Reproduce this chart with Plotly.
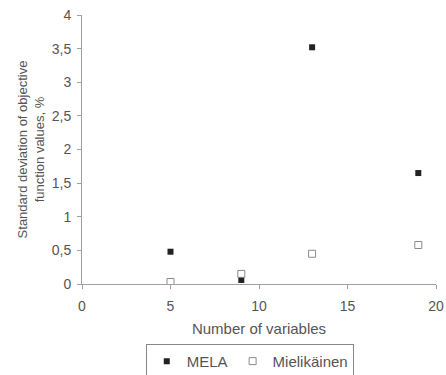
import plotly.graph_objects as go

# Number of variables in each test problem
n_vars = [5, 9, 13, 19]

# Standard deviation of objective function values, %
mela = [0.48, 0.06, 3.52, 1.65]
mielikainen = [0.03, 0.15, 0.45, 0.58]

font_family = "Liberation Sans, Arial, sans-serif"
text_color = "#555555"
axis_color = "#a0a0a0"

fig = go.Figure()
fig.add_trace(go.Scatter(
    x=n_vars, y=mela, mode="markers", name="MELA",
    marker=dict(symbol="square", size=6, color="#222222",
                line=dict(width=0)),
))
fig.add_trace(go.Scatter(
    x=n_vars, y=mielikainen, mode="markers", name="Mielikäinen",
    marker=dict(symbol="square-open", size=7, color="#8a8a8a",
                line=dict(width=1)),
))

fig.update_layout(
    width=446, height=375,
    margin=dict(l=82, r=10, t=15, b=91, autoexpand=False),
    paper_bgcolor="white", plot_bgcolor="white",
    separators=",.",
    font=dict(family=font_family, size=14, color=text_color),
    showlegend=True,
    legend=dict(
        orientation="h", xref="container", yref="container",
        x=0.56, xanchor="center", y=0.083, yanchor="top",
        bordercolor="#888888", borderwidth=1,
        font=dict(size=15, color=text_color),
    ),
    xaxis=dict(
        range=[0, 20], tickvals=[0, 5, 10, 15, 20],
        showgrid=False, zeroline=False,
        showline=True, linecolor=axis_color, linewidth=1,
        ticks="outside", ticklen=4, tickcolor=axis_color,
        ticklabelstandoff=5,
        tickfont=dict(size=14, color=text_color),
        title=dict(text="Number of variables", standoff=10,
                   font=dict(size=15, color=text_color)),
    ),
    yaxis=dict(
        range=[0, 4], tickvals=[0, 0.5, 1, 1.5, 2, 2.5, 3, 3.5, 4],
        showgrid=False, zeroline=False,
        showline=True, linecolor=axis_color, linewidth=1,
        ticks="outside", ticklen=4, tickcolor=axis_color,
        ticklabelstandoff=3,
        tickfont=dict(size=14, color=text_color),
        title=dict(text="Standard deviation of objective<br>function values, %",
                   standoff=4, font=dict(size=13, color=text_color)),
    ),
)

fig.write_html("out.html")
